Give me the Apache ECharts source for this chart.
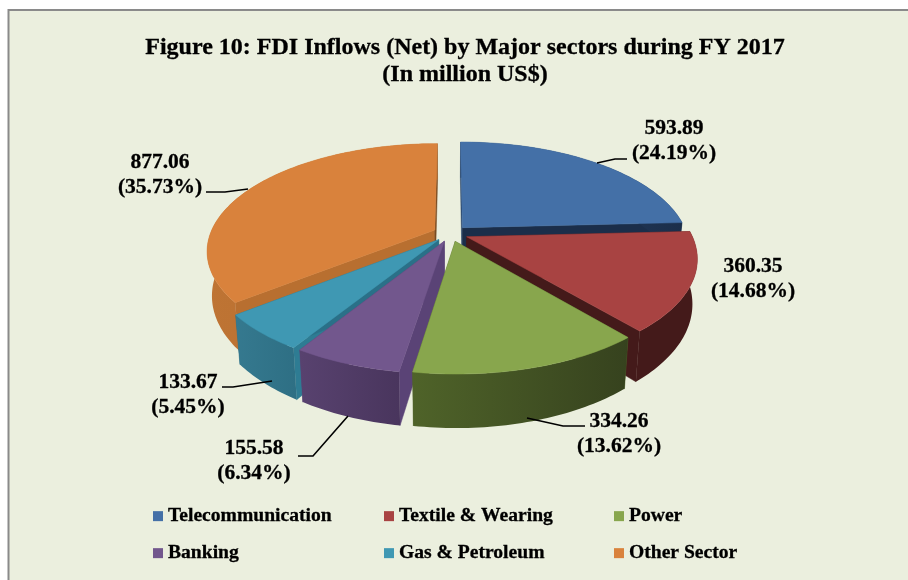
<!DOCTYPE html>
<html><head><meta charset="utf-8">
<style>html,body{margin:0;padding:0;background:#fff}#c{width:908px;height:580px}</style>
<script src="https://cdn.jsdelivr.net/npm/echarts@6/dist/echarts.min.js"></script>
</head><body><div id="c"></div>
<script>
const categories = ['Telecommunication','Textile & Wearing','Power','Banking','Gas & Petroleum','Other Sector'];
const values = [593.89,360.35,334.26,155.58,133.67,877.06];
const percents = ['24.19','14.68','13.62','6.34','5.45','35.73'];
const topColors = ['#4470A7','#A84342','#88A64D','#72578D','#3F98B3','#D9823C'];
const sideFrom = ['#2A466B','#441A1A','#4F6329','#58426F','#35798F','#BE7434'];
const sideTo = ['#1B2E4A','#441A1A','#36421E','#49355D','#2E6F84','#B56B2D'];
const startFace = ['#2A466B','#441A1A','#4F6329','#5A4376','#2E7C93','#B86F30'];
const endFace = ['#1B2E4A','#441A1A','#4F6329','#5A4376','#2A7088','#784A20'];
const drawOrder = [5,0,1,4,3,2];
const labelCenters = [[674,127],[753,265],[619,420],[254,447],[188,381],[160,161]];
const leaders = [
  [[597,163],[615,159],[627,159]],
  null,
  [[527,418],[563,426],[585,426]],
  [[348,416],[313,456],[298,456]],
  [[272,381],[233,387],[222,387]],
  [[248,189],[225,192],[206,192]]
];
const legendCols = [153,384,614];
const legendRows = [506,543];

const total = values.reduce((a,b)=>a+b,0);
const G = {cx:450.5,cy:233.5,R:224.5,Ry:104,k:0.19,D:43,e:0.078,shrink:0.98};
function P(u,v,low){
  const s = 1/(1-G.k*v);
  return [G.cx + G.R*u*s*(low?G.shrink:1), G.cy + G.Ry*v*s + (low?G.D*s:0)];
}
function sliceAngles(i){
  let c = 0;
  for(let j=0;j<i;j++) c += values[j];
  return [c/total*2*Math.PI,(c+values[i])/total*2*Math.PI];
}
function renderSlice(i){
  return function(){
    const [a1,a2] = sliceAngles(i);
    const m = (a1+a2)/2, ex = G.e*Math.sin(m), ey = -G.e*Math.cos(m);
    const n = Math.max(2,Math.ceil((a2-a1)/0.02));
    const rim = [];
    for(let t=0;t<=n;t++){
      const a = a1+(a2-a1)*t/n;
      rim.push([ex+Math.sin(a),ey-Math.cos(a)]);
    }
    const top = rim.map(p=>P(p[0],p[1],false));
    const low = rim.map(p=>P(p[0],p[1],true));
    const A = P(ex,ey,false), B = P(ex,ey,true);
    const poly = (pts,fill)=>({type:'polygon',shape:{points:pts},silent:true,
      style:{fill,stroke:typeof fill==='string'?fill:null,lineWidth:0.5}});
    const grad = {type:'linear',x:0,y:0,x2:1,y2:0,colorStops:[{offset:0,color:sideFrom[i]},{offset:1,color:sideTo[i]}]};
    return {type:'group',children:[
      poly([A,top[0],low[0],B],startFace[i]),
      poly([A,top[n],low[n],B],endFace[i]),
      poly(top.concat(low.slice().reverse()),grad),
      poly([A].concat(top),topColors[i])
    ]};
  };
}
const series = drawOrder.map(i=>({
  type:'custom',name:categories[i],coordinateSystem:'none',silent:true,animation:false,
  itemStyle:{color:topColors[i]},data:[values[i]],renderItem:renderSlice(i)
}));
const legends = categories.map((c,i)=>({
  data:[c],left:legendCols[i%3],top:legendRows[Math.floor(i/3)],padding:0,
  icon:'rect',itemWidth:10,itemHeight:10,itemGap:3.5,selectedMode:false,
  textStyle:{fontFamily:'Liberation Serif',fontWeight:'bold',fontSize:19.6,color:'#000',textBorderColor:'#000',textBorderWidth:0.3}
}));
const graphic = [{type:'rect',z:-10,shape:{x:8.5,y:10,width:930,height:600},style:{fill:'#EBEFDE',stroke:'#8A8A8A',lineWidth:2}}];
values.forEach((v,i)=>{
  graphic.push({type:'text',z:20,x:labelCenters[i][0],y:labelCenters[i][1]+14,silent:true,style:{
    text:v.toFixed(2)+'\n('+percents[i]+'%)',align:'center',verticalAlign:'middle',
    fontFamily:'Liberation Serif',fontWeight:'bold',fontSize:21.5,lineHeight:25,fill:'#000',stroke:'#000',lineWidth:0.3
  }});
  if(leaders[i]) graphic.push({type:'polyline',z:20,silent:true,shape:{points:leaders[i]},style:{fill:null,stroke:'#000',lineWidth:1.6}});
});
const chart = echarts.init(document.getElementById('c'),null,{renderer:'canvas'});
chart.setOption({
  animation:false,
  backgroundColor:'#fff',
  title:{text:'Figure 10: FDI Inflows (Net) by Major sectors during FY 2017\n(In million US$)',
    left:465,top:34,textAlign:'center',padding:0,
    textStyle:{fontFamily:'Liberation Serif',fontWeight:'bold',fontSize:24,lineHeight:27,color:'#000',textBorderColor:'#000',textBorderWidth:0.3}},
  legend:legends,
  graphic:graphic,
  series:series
});
</script></body></html>
